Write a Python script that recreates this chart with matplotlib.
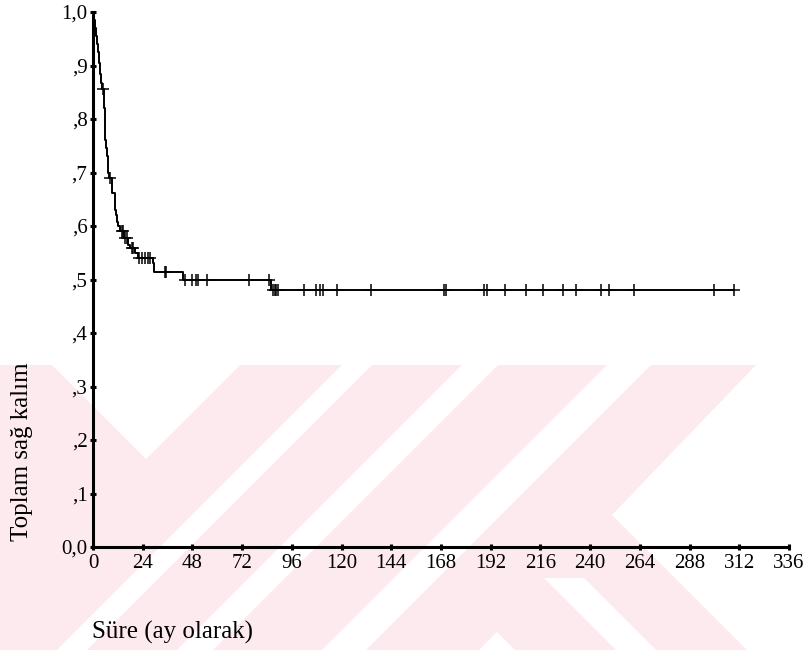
import numpy as np
import matplotlib.pyplot as plt
from matplotlib.patches import Polygon

# --- Kaplan-Meier curve ---
event_t = [0, 0.5, 1.0, 1.5, 2.0, 2.5, 3.0, 3.5, 4.0, 4.3, 5.3, 5.5, 5.7, 5.9,
           6.2, 6.6, 7.0, 7.4, 7.8, 9.0, 9.3, 10.6, 10.8, 11.0, 11.4, 12.0,
           13.0, 15.0, 17.0, 18.0, 20.5, 21.5, 28.8, 29.5, 43.5, 86.0]
event_s = [1.0, 0.985, 0.97, 0.955, 0.94, 0.925, 0.905, 0.885, 0.868, 0.857,
           0.845, 0.82, 0.79, 0.76, 0.745, 0.73, 0.715, 0.70, 0.69, 0.675,
           0.662, 0.645, 0.63, 0.62, 0.607, 0.60, 0.59, 0.578, 0.565, 0.558,
           0.549, 0.541, 0.531, 0.514, 0.50, 0.48]
censor_t = [4.6, 8.2, 13.8, 14.5, 15.5, 16.3, 18.7, 19.5, 22.0, 23.5, 25.0,
            26.5, 27.5, 34.6, 35.0, 44.5, 48.0, 49.5, 50.5, 55.0, 75.5, 85.0,
            86.8, 87.7, 88.5, 89.5, 101.8, 107.7, 109.5, 111.0, 118.0, 134.0,
            169.5, 170.5, 189.0, 190.0, 199.0, 209.0, 217.0, 227.0, 233.0,
            245.0, 249.0, 261.0, 300.0, 309.5]

x_ticks = list(range(0, 337, 24))
y_ticks = [0.0, 0.1, 0.2, 0.3, 0.4, 0.5, 0.6, 0.7, 0.8, 0.9, 1.0]
y_labels = ['0,0', ',1', ',2', ',3', ',4', ',5', ',6', ',7', ',8', ',9', '1,0']

plt.rcParams['font.family'] = ['Liberation Serif', 'DejaVu Serif']

W, H = 809, 650
fig = plt.figure(figsize=(W / 100, H / 100), dpi=100)


# --- background watermark (pixel coords) ---
def px(pts):
    return [(x / W, 1 - y / H) for x, y in pts]


pink = '#fdeaee'
wm = [
    ([(0, 365), (756, 365), (612, 515), (747, 650), (0, 650)], pink),
    ([(52, 365), (240, 365), (146, 459)], 'white'),
    ([(342, 365), (372, 365), (87, 650), (57, 650)], 'white'),
    ([(462, 365), (498, 365), (213, 650), (177, 650)], 'white'),
    ([(607, 365), (651, 365), (366, 650), (322, 650)], 'white'),
    ([(544, 578), (584, 578), (656, 650), (616, 650)], 'white'),
    ([(497, 632), (515, 650), (479, 650)], 'white'),
]
for pts, c in wm:
    fig.patches.append(Polygon(px(pts), closed=True, transform=fig.transFigure,
                               facecolor=c, edgecolor='none', zorder=-10))

ax = fig.add_axes([93 / W, 1 - 547 / H, (789 - 93) / W, (547 - 12) / H])
ax.patch.set_alpha(0)

# step curve, extended to the last censored observation
t_line = event_t + [censor_t[-1]]
s_line = event_s + [event_s[-1]]
ax.step(t_line, s_line, where='post', color='black', lw=1.4)

idx = np.searchsorted(event_t, censor_t, side='right') - 1
censor_s = np.array(event_s)[idx]
ax.plot(censor_t, censor_s, linestyle='none', marker='+', color='black',
        markersize=8, mew=1.1)

ax.set_xlim(0, 336)
ax.set_ylim(0, 1.0)
ax.set_xticks(x_ticks)
ax.set_xticklabels([str(v) for v in x_ticks])
ax.set_yticks(y_ticks)
ax.set_yticklabels(y_labels)

for s in ['top', 'right']:
    ax.spines[s].set_visible(False)
for s in ['left', 'bottom']:
    ax.spines[s].set_linewidth(2.2)
ax.tick_params(axis='both', direction='inout', length=4, width=2.2,
               labelsize=15, pad=3)
ax.tick_params(axis='y', pad=2)

fig.text(22 / W, 1 - 452 / H, 'Toplam sağ kalım', rotation=90,
         ha='center', va='center', fontsize=18)
fig.text(92 / W, 1 - 632 / H, 'Süre (ay olarak)', ha='left', va='center',
         fontsize=18)

fig.savefig('out.png', dpi=100)
